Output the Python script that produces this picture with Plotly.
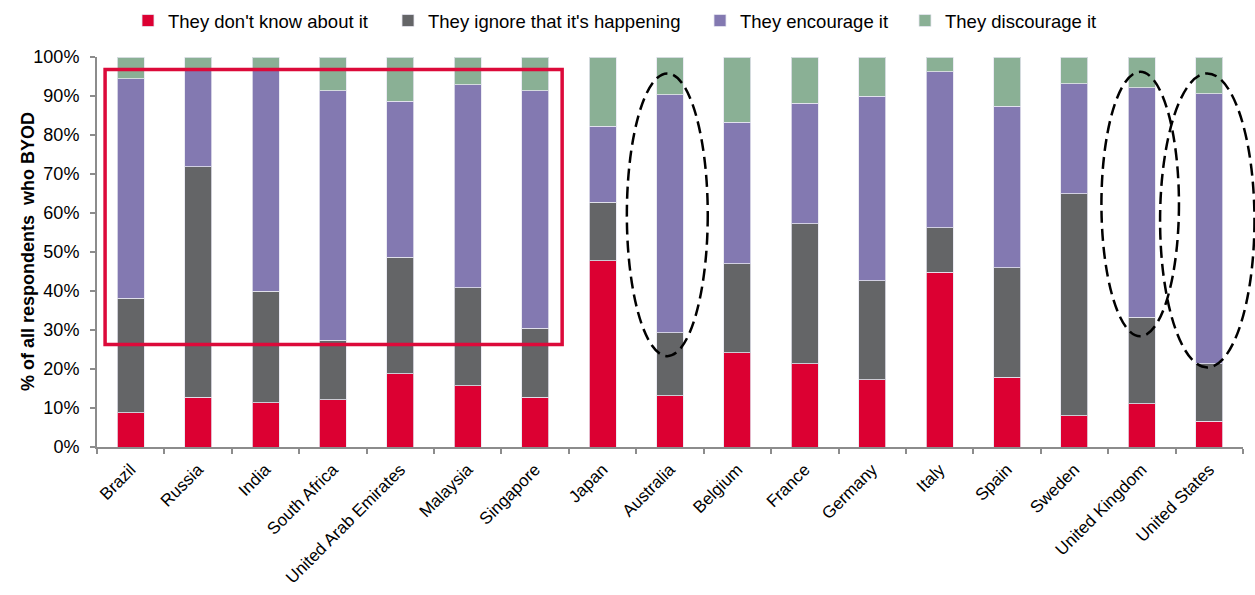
import plotly.graph_objects as go

# Share of respondents (in %) by how their IT department reacts to BYOD
countries = ["Brazil", "Russia", "India", "South Africa", "United Arab Emirates",
             "Malaysia", "Singapore", "Japan", "Australia", "Belgium", "France",
             "Germany", "Italy", "Spain", "Sweden", "United Kingdom", "United States"]

dont_know = [8.8, 12.8, 11.4, 12.1, 18.8, 15.7, 12.8, 47.7, 13.1, 24.2, 21.4,
             17.3, 44.8, 17.9, 8.0, 11.1, 6.6]
ignore = [29.4, 59.0, 28.6, 15.3, 29.9, 25.1, 17.7, 15.1, 16.2, 22.8, 35.9,
          25.3, 11.4, 28.0, 57.0, 22.2, 14.8]
encourage = [56.2, 24.7, 57.0, 63.9, 40.0, 52.1, 60.8, 19.4, 61.0, 36.3, 30.8,
             47.3, 40.0, 41.5, 28.2, 58.8, 69.2]
discourage = [5.6, 3.5, 3.0, 8.7, 11.3, 7.1, 8.7, 17.8, 9.7, 16.7, 11.9,
              10.1, 3.8, 12.6, 6.8, 7.9, 9.4]

# name, values, colour, legend entry width (px)
series = [
    ("They don't know about it", dont_know, "#DC0032", 215),
    ("They ignore that it's happening", ignore, "#646567", 267),
    ("They encourage it", encourage, "#8379B1", 160),
    ("They discourage it", discourage, "#8AB095", 160),
]

FONT = "Liberation Sans, Arial, sans-serif"
W, H = 1255, 595

fig = go.Figure()
for name, vals, color, lw in series:
    fig.add_trace(go.Bar(
        x=countries, y=vals, name=name, legendwidth=lw,
        marker=dict(color=color, line=dict(color="rgba(230,230,240,0.8)", width=1)),
    ))

n = len(countries)


def cat_to_paper(u):
    # category index -> fraction of the plot width
    return (u + 0.5) / n


def pct_to_paper(v):
    return v / 100.0


# Highlight box around the emerging markets group
fig.add_shape(type="rect",
              x0=cat_to_paper(-0.38), x1=cat_to_paper(6.40),
              y0=pct_to_paper(26.3), y1=pct_to_paper(96.8),
              xref="paper", yref="paper",
              line=dict(color="#DC0A3A", width=3.5))

# Dashed callouts around Australia, United Kingdom and United States
ellipses = [(7.36, 8.56, 23.3, 95.8), (14.40, 15.55, 28.4, 96.2), (15.27, 16.67, 20.4, 95.8)]
for x0, x1, y0, y1 in ellipses:
    fig.add_shape(type="circle",
                  x0=cat_to_paper(x0), x1=cat_to_paper(x1),
                  y0=pct_to_paper(y0), y1=pct_to_paper(y1),
                  xref="paper", yref="paper",
                  line=dict(color="black", width=2.5, dash="12px,6px"))

# Y axis title
fig.add_annotation(text="<b>% of all respondents  who BYOD</b>", textangle=-90,
                   xref="paper", yref="paper", x=-0.0602, y=0.5,
                   xanchor="center", yanchor="middle", showarrow=False,
                   font=dict(family=FONT, size=18, color="black"))

fig.update_layout(
    barmode="stack",
    bargap=0.6,
    width=W, height=H,
    margin=dict(l=97, r=12, t=57, b=148, autoexpand=False),
    paper_bgcolor="white", plot_bgcolor="white",
    font=dict(family=FONT, size=18, color="black"),
    legend=dict(orientation="h", xref="container", yref="container",
                x=128 / W, xanchor="left", y=1 - 21 / H, yanchor="middle",
                font=dict(family=FONT, size=18.5, color="black"),
                traceorder="normal", itemclick=False),
    showlegend=True,
)

fig.update_xaxes(
    type="category", tickangle=-45, showline=True, linecolor="#8C8C8C", linewidth=2,
    ticks="outside", tickson="boundaries", ticklen=5, tickcolor="#8C8C8C", tickwidth=1.5,
    ticklabelstandoff=4, automargin=False,
    tickfont=dict(family=FONT, size=17, color="black"), showgrid=False,
)
fig.update_yaxes(
    range=[0, 100], dtick=10, ticksuffix="%", showline=True, linecolor="#8C8C8C",
    linewidth=2, ticks="outside", ticklen=5, tickcolor="#8C8C8C", tickwidth=1.5,
    ticklabelstandoff=7, automargin=False,
    tickfont=dict(family=FONT, size=18, color="black"), showgrid=False, zeroline=False,
)

fig.write_html("out.html")
